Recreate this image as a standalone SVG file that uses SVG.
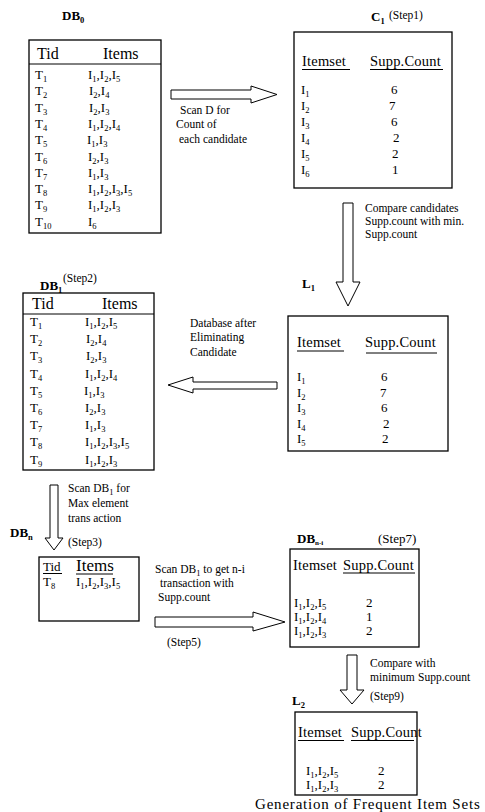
<svg xmlns="http://www.w3.org/2000/svg" width="485" height="812" viewBox="0 0 485 812">
<style>
text{font-family:"Liberation Serif","Times New Roman",serif;fill:#000}
.r{font-size:13px}
.h{font-size:14.5px;letter-spacing:0.2px}
.hd{font-size:16px}
.n{font-size:11.5px}
.b{font-size:13px;font-weight:bold}
.s{font-size:8.5px}
.box{fill:#fff;stroke:#000;stroke-width:1.3}
.ln{stroke:#000;stroke-width:1}
.arr{fill:#fff;stroke:#000;stroke-width:1}
</style>
<rect width="485" height="812" fill="#fff"/>

<g id="connectors">
<polygon class="arr" points="171,90 251,90 251,86 277,94.5 251,103 251,99 171,99"/>
<polygon class="arr" points="343,203 353,203 353,282 360,282 348,306 336,282 343,282"/>
<polygon class="arr" points="277,382 193,382 193,377 168,385 193,393 193,389 277,389"/>
<polygon class="arr" points="50,485 58,485 58,538 63,538 54,550 45,538 50,538"/>
<polygon class="arr" points="155,617 253,617 253,612 285,622 253,631 253,627 155,627"/>
<polygon class="arr" points="347,655 357,655 357,690 364,690 352,704 340,690 347,690"/>
<text class="n" x="180" y="114">Scan D for</text>
<text class="n" x="176" y="128">Count of</text>
<text class="n" x="179" y="143">each candidate</text>
<text class="n" x="365" y="212">Compare candidates</text>
<text class="n" x="365" y="225">Supp.count with min.</text>
<text class="n" x="365" y="238">Supp.count</text>
<text class="n" x="190" y="327">Database after</text>
<text class="n" x="190" y="341">Eliminating</text>
<text class="n" x="190" y="356">Candidate</text>
<text class="n" x="68" y="492">Scan DB<tspan class="s" dy="3">1</tspan><tspan dy="-3"> for</tspan></text>
<text class="n" x="68" y="507">Max element</text>
<text class="n" x="68" y="522">trans action</text>
<text class="n" x="68" y="546">(Step3)</text>
<text class="n" x="155" y="573">Scan DB<tspan class="s" dy="3">1</tspan><tspan dy="-3"> to get n-i</tspan></text>
<text class="n" x="160" y="587">transaction with</text>
<text class="n" x="158" y="601">Supp.count</text>
<text class="n" x="167" y="646">(Step5)</text>
<text class="n" x="370" y="667">Compare<tspan x="415">with</tspan></text>
<text class="n" x="370" y="681">minimum<tspan x="418">Supp.count</tspan></text>
<text class="n" x="370" y="700">(Step9)</text>
</g>

<g id="db0">
<text class="b" x="62" y="20">DB<tspan class="s" dy="3">0</tspan></text>
<rect class="box" x="29" y="40" width="132" height="193"/>
<line class="ln" x1="29" y1="64" x2="161" y2="64"/>
<text class="hd" x="37" y="59">Tid</text>
<text class="hd" x="103" y="59">Items</text>
<g class="r">
<text x="35" y="79">T<tspan class="s" dy="3">1</tspan></text>
<text x="88" y="79">I<tspan class="s" dy="3">1</tspan><tspan dy="-3">,I</tspan><tspan class="s" dy="3">2</tspan><tspan dy="-3">,I</tspan><tspan class="s" dy="3">5</tspan></text>
<text x="35" y="95.3">T<tspan class="s" dy="3">2</tspan></text>
<text x="89" y="95.3">I<tspan class="s" dy="3">2</tspan><tspan dy="-3">,I</tspan><tspan class="s" dy="3">4</tspan></text>
<text x="35" y="111.6">T<tspan class="s" dy="3">3</tspan></text>
<text x="89" y="111.6">I<tspan class="s" dy="3">2</tspan><tspan dy="-3">,I</tspan><tspan class="s" dy="3">3</tspan></text>
<text x="35" y="127.9">T<tspan class="s" dy="3">4</tspan></text>
<text x="88" y="127.9">I<tspan class="s" dy="3">1</tspan><tspan dy="-3">,I</tspan><tspan class="s" dy="3">2</tspan><tspan dy="-3">,I</tspan><tspan class="s" dy="3">4</tspan></text>
<text x="35" y="144.2">T<tspan class="s" dy="3">5</tspan></text>
<text x="87" y="144.2">I<tspan class="s" dy="3">1</tspan><tspan dy="-3">,I</tspan><tspan class="s" dy="3">3</tspan></text>
<text x="35" y="160.5">T<tspan class="s" dy="3">6</tspan></text>
<text x="88" y="160.5">I<tspan class="s" dy="3">2</tspan><tspan dy="-3">,I</tspan><tspan class="s" dy="3">3</tspan></text>
<text x="35" y="176.8">T<tspan class="s" dy="3">7</tspan></text>
<text x="88" y="176.8">I<tspan class="s" dy="3">1</tspan><tspan dy="-3">,I</tspan><tspan class="s" dy="3">3</tspan></text>
<text x="35" y="193.1">T<tspan class="s" dy="3">8</tspan></text>
<text x="88" y="193.1">I<tspan class="s" dy="3">1</tspan><tspan dy="-3">,I</tspan><tspan class="s" dy="3">2</tspan><tspan dy="-3">,I</tspan><tspan class="s" dy="3">3</tspan><tspan dy="-3">,I</tspan><tspan class="s" dy="3">5</tspan></text>
<text x="35" y="209.4">T<tspan class="s" dy="3">9</tspan></text>
<text x="88" y="209.4">I<tspan class="s" dy="3">1</tspan><tspan dy="-3">,I</tspan><tspan class="s" dy="3">2</tspan><tspan dy="-3">,I</tspan><tspan class="s" dy="3">3</tspan></text>
<text x="35" y="225.7">T<tspan class="s" dy="3">10</tspan></text>
<text x="88" y="225.7">I<tspan class="s" dy="3">6</tspan></text>
</g>
</g>

<g id="c1">
<text class="b" x="371" y="21">C<tspan class="s" dy="3">1</tspan></text>
<text class="n" x="389" y="19">(Step1)</text>
<rect class="box" x="294" y="32" width="158" height="156"/>
<text class="h" x="302" y="66">Itemset</text>
<line class="ln" x1="302" y1="69.5" x2="350" y2="69.5"/>
<text class="h" x="370" y="66">Supp.Count</text>
<line class="ln" x1="370" y1="69.5" x2="443" y2="69.5"/>
<g class="r">
<text x="301" y="94">I<tspan class="s" dy="3">1</tspan></text><text x="391" y="94">6</text>
<text x="301" y="110">I<tspan class="s" dy="3">2</tspan></text><text x="389" y="110">7</text>
<text x="301" y="126">I<tspan class="s" dy="3">3</tspan></text><text x="391" y="126">6</text>
<text x="301" y="142">I<tspan class="s" dy="3">4</tspan></text><text x="393" y="142">2</text>
<text x="301" y="158">I<tspan class="s" dy="3">5</tspan></text><text x="392" y="158">2</text>
<text x="301" y="174">I<tspan class="s" dy="3">6</tspan></text><text x="392" y="174">1</text>
</g>
</g>

<g id="l1">
<text class="b" x="302" y="288">L<tspan class="s" dy="3">1</tspan></text>
<rect class="box" x="288" y="316" width="160" height="135"/>
<text class="h" x="297" y="347">Itemset</text>
<line class="ln" x1="297" y1="351" x2="344" y2="351"/>
<text class="h" x="365" y="347">Supp.Count</text>
<line class="ln" x1="366" y1="353" x2="437" y2="353"/>
<g class="r">
<text x="297" y="381">I<tspan class="s" dy="3">1</tspan></text><text x="381" y="381">6</text>
<text x="297" y="396.5">I<tspan class="s" dy="3">2</tspan></text><text x="380" y="396.5">7</text>
<text x="297" y="412">I<tspan class="s" dy="3">3</tspan></text><text x="381" y="412">6</text>
<text x="297" y="427.5">I<tspan class="s" dy="3">4</tspan></text><text x="383" y="427.5">2</text>
<text x="297" y="443">I<tspan class="s" dy="3">5</tspan></text><text x="382" y="443">2</text>
</g>
</g>

<g id="db1">
<text class="b" x="40" y="290">DB<tspan class="s" dy="3">1</tspan></text>
<text class="n" x="63" y="282">(Step2)</text>
<rect class="box" x="23" y="293" width="131" height="177"/>
<line class="ln" x1="23" y1="314" x2="154" y2="314"/>
<text class="hd" x="32" y="309">Tid</text>
<text class="hd" x="102" y="309">Items</text>
<g class="r">
<text x="30" y="326">T<tspan class="s" dy="3">1</tspan></text>
<text x="85" y="326">I<tspan class="s" dy="3">1</tspan><tspan dy="-3">,I</tspan><tspan class="s" dy="3">2</tspan><tspan dy="-3">,I</tspan><tspan class="s" dy="3">5</tspan></text>
<text x="30" y="343.2">T<tspan class="s" dy="3">2</tspan></text>
<text x="86" y="343.2">I<tspan class="s" dy="3">2</tspan><tspan dy="-3">,I</tspan><tspan class="s" dy="3">4</tspan></text>
<text x="30" y="360.4">T<tspan class="s" dy="3">3</tspan></text>
<text x="86" y="360.4">I<tspan class="s" dy="3">2</tspan><tspan dy="-3">,I</tspan><tspan class="s" dy="3">3</tspan></text>
<text x="30" y="377.6">T<tspan class="s" dy="3">4</tspan></text>
<text x="85" y="377.6">I<tspan class="s" dy="3">1</tspan><tspan dy="-3">,I</tspan><tspan class="s" dy="3">2</tspan><tspan dy="-3">,I</tspan><tspan class="s" dy="3">4</tspan></text>
<text x="30" y="394.8">T<tspan class="s" dy="3">5</tspan></text>
<text x="84" y="394.8">I<tspan class="s" dy="3">1</tspan><tspan dy="-3">,I</tspan><tspan class="s" dy="3">3</tspan></text>
<text x="30" y="412">T<tspan class="s" dy="3">6</tspan></text>
<text x="85" y="412">I<tspan class="s" dy="3">2</tspan><tspan dy="-3">,I</tspan><tspan class="s" dy="3">3</tspan></text>
<text x="30" y="429.2">T<tspan class="s" dy="3">7</tspan></text>
<text x="85" y="429.2">I<tspan class="s" dy="3">1</tspan><tspan dy="-3">,I</tspan><tspan class="s" dy="3">3</tspan></text>
<text x="30" y="446.4">T<tspan class="s" dy="3">8</tspan></text>
<text x="85" y="446.4">I<tspan class="s" dy="3">1</tspan><tspan dy="-3">,I</tspan><tspan class="s" dy="3">2</tspan><tspan dy="-3">,I</tspan><tspan class="s" dy="3">3</tspan><tspan dy="-3">,I</tspan><tspan class="s" dy="3">5</tspan></text>
<text x="30" y="463.6">T<tspan class="s" dy="3">9</tspan></text>
<text x="85" y="463.6">I<tspan class="s" dy="3">1</tspan><tspan dy="-3">,I</tspan><tspan class="s" dy="3">2</tspan><tspan dy="-3">,I</tspan><tspan class="s" dy="3">3</tspan></text>
</g>
</g>

<g id="dbn">
<text class="b" x="10" y="537">DB<tspan class="s" dy="3">n</tspan></text>
<rect class="box" x="39" y="557" width="100" height="64"/>
<text class="r" x="43" y="571">Tid</text>
<line class="ln" x1="43" y1="573.5" x2="62" y2="573.5"/>
<text x="76" y="571" font-size="17">Items</text>
<line class="ln" x1="76" y1="574" x2="113" y2="574"/>
<text class="r" x="43" y="586">T<tspan class="s" dy="3">8</tspan></text>
<text class="r" x="76" y="586">I<tspan class="s" dy="3">1</tspan><tspan dy="-3">,I</tspan><tspan class="s" dy="3">2</tspan><tspan dy="-3">,I</tspan><tspan class="s" dy="3">3</tspan><tspan dy="-3">,I</tspan><tspan class="s" dy="3">5</tspan></text>
</g>

<g id="dbni">
<text class="b" x="297" y="543">DB<tspan font-size="7" dy="2">n-i</tspan></text>
<text class="r" x="378" y="543">(Step7)</text>
<rect class="box" x="290" y="549" width="129" height="98"/>
<text class="h" x="293" y="570">Itemset</text>
<text class="h" x="343" y="570">Supp.Count</text>
<line class="ln" x1="343" y1="573" x2="415" y2="573"/>
<g class="r">
<text x="294" y="607">I<tspan class="s" dy="3">1</tspan><tspan dy="-3">,I</tspan><tspan class="s" dy="3">2</tspan><tspan dy="-3">,I</tspan><tspan class="s" dy="3">5</tspan></text><text x="366" y="607">2</text>
<text x="294" y="621">I<tspan class="s" dy="3">1</tspan><tspan dy="-3">,I</tspan><tspan class="s" dy="3">2</tspan><tspan dy="-3">,I</tspan><tspan class="s" dy="3">4</tspan></text><text x="366" y="621">1</text>
<text x="294" y="635">I<tspan class="s" dy="3">1</tspan><tspan dy="-3">,I</tspan><tspan class="s" dy="3">2</tspan><tspan dy="-3">,I</tspan><tspan class="s" dy="3">3</tspan></text><text x="366" y="635">2</text>
</g>
</g>

<g id="l2">
<text class="b" x="292" y="705">L<tspan class="s" dy="3">2</tspan></text>
<rect class="box" x="295" y="712" width="122" height="83"/>
<text class="h" x="298" y="737">Itemset</text>
<line class="ln" x1="298" y1="740.5" x2="344" y2="740.5"/>
<text class="h" x="351" y="737">Supp.Count</text>
<line class="ln" x1="351" y1="740.5" x2="414" y2="740.5"/>
<g class="r">
<text x="306" y="775">I<tspan class="s" dy="3">1</tspan><tspan dy="-3">,I</tspan><tspan class="s" dy="3">2</tspan><tspan dy="-3">,I</tspan><tspan class="s" dy="3">5</tspan></text><text x="378" y="775">2</text>
<text x="306" y="789">I<tspan class="s" dy="3">1</tspan><tspan dy="-3">,I</tspan><tspan class="s" dy="3">2</tspan><tspan dy="-3">,I</tspan><tspan class="s" dy="3">3</tspan></text><text x="378" y="789">2</text>
</g>
<text x="255" y="809" font-size="15" letter-spacing="0.8">Generation of Frequent Item Sets</text>
</g>
</svg>
